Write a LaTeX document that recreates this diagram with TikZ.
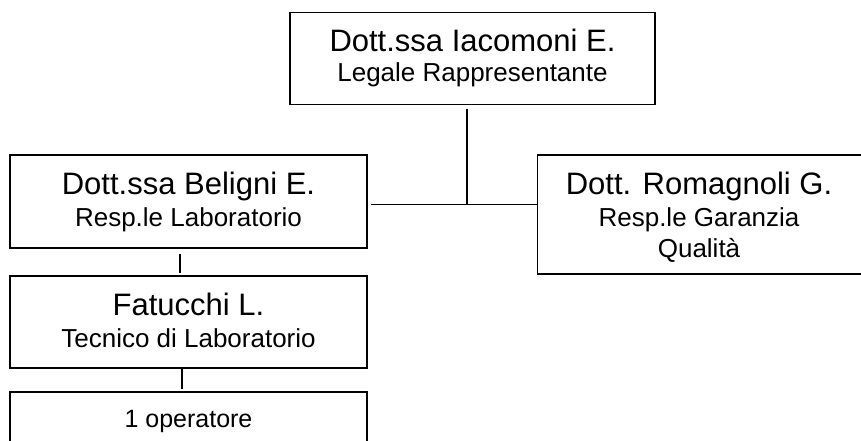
\documentclass[tikz,border=0pt]{standalone}
\usepackage{fontspec}
\setmainfont{Liberation Sans}
\begin{document}
\begin{tikzpicture}[x=1pt,y=-1pt,
  box/.style={draw=black, line width=1.6pt, inner sep=0pt},
  conn/.style={draw=black, line width=1.6pt},
  nametxt/.style={anchor=base, inner sep=0pt, font=\fontsize{31}{36}\selectfont},
  roletxt/.style={anchor=base, inner sep=0pt, font=\fontsize{26}{30}\selectfont}]
\useasboundingbox (0,0) rectangle (861,441);
\clip (0,0) rectangle (861,441);
% boxes
\node[box, minimum width=365pt, minimum height=92pt] (top) at (472.5,58.5) {};
\node[box, minimum width=357pt, minimum height=93pt] (bel) at (188.5,201.5) {};
\node[box, minimum width=328pt, minimum height=119pt] (rom) at (701.5,214.5) {};
\node[box, minimum width=357pt, minimum height=92pt] (fat) at (188.5,322) {};
\node[box, minimum width=357pt, minimum height=80pt] (op) at (188.5,432) {};
% texts
\node[nametxt] (t1) at (472.5,52) {Dott.ssa Iacomoni E.};
\node[roletxt] (t2) at (472.5,82) {Legale Rappresentante};
\node[nametxt] (b1) at (188.5,194) {Dott.ssa Beligni E.};
\node[roletxt] (b2) at (188.5,226) {Resp.le Laboratorio};
\node[nametxt] (r1) at (699,194) {Dott. Romagnoli G.};
\node[roletxt] (r2) at (699,226) {Resp.le Garanzia};
\node[roletxt] (r3) at (699,257) {Qualità};
\node[nametxt] (f1) at (188.5,315) {Fatucchi L.};
\node[roletxt] (f2) at (188.5,347) {Tecnico di Laboratorio};
\node[roletxt, font=\fontsize{25}{30}\selectfont] (o1) at (188.5,427) {1 operatore};
% connectors
\coordinate (j) at (467,204.5);
\draw[conn] ([xshift=-5.5pt,yshift=-4pt]top.south) -- (j);
\draw[conn] ([xshift=3pt]bel.east |- j) -- (rom.west |- j);
\draw[conn] ([xshift=-8.5pt,yshift=-5pt]bel.south) -- ([xshift=-8.5pt,yshift=2.5pt]fat.north);
\draw[conn] ([xshift=-6.5pt]fat.south) -- ([xshift=-6.5pt,yshift=2pt]op.north);
\end{tikzpicture}
\end{document}
